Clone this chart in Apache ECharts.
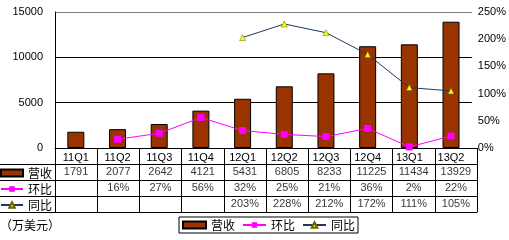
<!DOCTYPE html>
<html>
<head>
<meta charset="utf-8">
<script src="https://cdn.jsdelivr.net/npm/echarts@6/dist/echarts.min.js"></script>
<style>html,body{margin:0;padding:0;background:#fff}#c{width:509px;height:240px}</style>
</head>
<body>
<div id="c"></div>
<script>
var categories = ['11Q1','11Q2','11Q3','11Q4','12Q1','12Q2','12Q3','12Q4','13Q1','13Q2'];
var revenue = [1791,2077,2642,4121,5431,6805,8233,11225,11434,13929];
var qoq = [null,16,27,56,32,25,21,36,2,22];
var yoy = [null,null,null,null,203,228,212,172,111,105];
var seriesNames = ['营收','环比','同比'];
var leftTicks = {min:0, max:15000, interval:5000};
var rightTicks = {min:0, max:250, interval:50};
var unitText = '（万美元）';

var FONT = "'Liberation Sans','Noto Sans CJK SC',sans-serif";
var CJK = "'Noto Sans CJK SC',sans-serif";

var tableData = [];
categories.forEach(function(c, i){
  tableData.push([c, seriesNames[0], String(revenue[i])]);
  if (qoq[i] != null) tableData.push([c, seriesNames[1], qoq[i] + '%']);
  if (yoy[i] != null) tableData.push([c, seriesNames[2], yoy[i] + '%']);
});
var legendItems = [{name:seriesNames[0], icon:'rect'}, {name:seriesNames[1]}, {name:seriesNames[2]}];

var chart = echarts.init(document.getElementById('c'), null, {renderer:'canvas'});
chart.setOption({
  animation:false,
  backgroundColor:'#fff',
  textStyle:{fontFamily:FONT},
  title:{text:unitText, left:0, top:219, padding:0,
    textStyle:{fontFamily:CJK, fontSize:12, fontWeight:'normal', color:'#000'}},
  legend:[{
    data:legendItems, left:179, top:217, padding:[2,3], itemGap:7,
    itemWidth:23, itemHeight:7, borderColor:'#000', borderWidth:1,
    selectedMode:false,
    textStyle:{fontFamily:CJK, fontSize:12, color:'#000', lineHeight:12}
  },{
    data:legendItems, orient:'vertical', left:0, top:167, padding:0, itemGap:4,
    itemWidth:22, itemHeight:7, selectedMode:false,
    textStyle:{fontFamily:CJK, fontSize:12, color:'#000', lineHeight:12}
  }],
  grid:[
    {left:55, right:32, top:12, height:136},
    {left:55, right:32, top:148, height:64},
    {left:0, width:55, top:164, height:48}
  ],
  xAxis:[
    {type:'category', gridIndex:0, data:categories, boundaryGap:true,
     axisLine:{lineStyle:{color:'#000', width:1}}, axisTick:{show:false},
     axisLabel:{interval:0, margin:4, fontSize:11, color:'#000', fontFamily:FONT}},
    {type:'category', gridIndex:1, data:categories, boundaryGap:true,
     axisLine:{show:true, lineStyle:{color:'#000'}}, axisTick:{show:false},
     axisLabel:{show:false}, splitLine:{show:true, interval:0, lineStyle:{color:'#000', width:1}}},
    {type:'value', gridIndex:2, show:false, min:0, max:1}
  ],
  yAxis:[
    {type:'value', gridIndex:0, position:'left', min:leftTicks.min, max:leftTicks.max, interval:leftTicks.interval,
     axisLine:{show:true, lineStyle:{color:'#000'}}, axisTick:{show:false},
     axisLabel:{margin:12, fontSize:11, color:'#000', fontFamily:FONT, formatter:function(v){return String(v);}},
     splitLine:{show:true, lineStyle:{color:['#000','#000','#000','#808080'], width:1}}},
    {type:'value', gridIndex:0, position:'right', min:rightTicks.min, max:rightTicks.max, interval:rightTicks.interval,
     axisLine:{show:false}, axisTick:{show:false}, splitLine:{show:false},
     axisLabel:{margin:6, fontSize:11, color:'#000', fontFamily:FONT, formatter:'{value}%'}},
    {type:'category', gridIndex:1, data:[''].concat(seriesNames), inverse:true, boundaryGap:true,
     axisLine:{show:true, lineStyle:{color:'#000'}}, axisTick:{show:false}, axisLabel:{show:false},
     splitLine:{show:true, interval:0, lineStyle:{color:'#000', width:1}}},
    {type:'category', gridIndex:2, data:seriesNames, inverse:true, boundaryGap:true,
     axisLine:{show:false}, axisTick:{show:false}, axisLabel:{show:false},
     splitLine:{show:true, interval:0, lineStyle:{color:'#000', width:1}}}
  ],
  series:[
    {name:seriesNames[0], type:'bar', xAxisIndex:0, yAxisIndex:0, data:revenue, barWidth:17,
     itemStyle:{color:'#993300', borderColor:'#000', borderWidth:1}},
    {name:seriesNames[1], type:'line', xAxisIndex:0, yAxisIndex:1, data:qoq,
     symbol:'rect', symbolSize:7, lineStyle:{color:'#FF00FF', width:1},
     itemStyle:{color:'#FF00FF'}, z:5},
    {name:seriesNames[2], type:'line', xAxisIndex:0, yAxisIndex:1, data:yoy,
     symbol:'triangle', symbolSize:6, lineStyle:{color:'#1F3A60', width:1},
     itemStyle:{color:'#FFFF00', borderColor:'#666600', borderWidth:0.5}, z:6},
    {type:'scatter', xAxisIndex:1, yAxisIndex:2, data:tableData, symbolSize:0,
     silent:true,
     label:{show:true, position:'inside', fontSize:11, color:'#000', fontFamily:FONT,
       formatter:function(p){return p.value[2];}}}
  ]
});
</script>
</body>
</html>
